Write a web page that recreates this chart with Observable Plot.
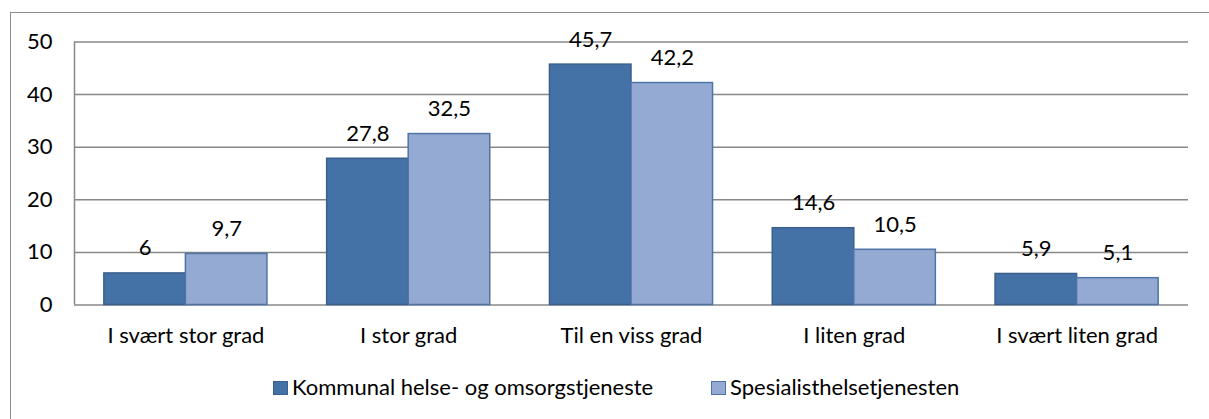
<!DOCTYPE html>
<html>
<head>
<meta charset="utf-8">
<script src="https://cdn.jsdelivr.net/npm/d3@7"></script>
<script src="https://cdn.jsdelivr.net/npm/@observablehq/plot@0.6"></script>
<style>
  html, body { margin: 0; padding: 0; background: #fff; }
  #wrap { position: relative; width: 1209px; height: 419px; overflow: hidden; font-family: Lato, "Open Sans", sans-serif; }
  #border { position: absolute; left: 10px; top: 12px; width: 1400px; height: 600px; border: 1.5px solid #8c8c8c; box-sizing: border-box; pointer-events: none; }
  #chart { position: absolute; left: 0; top: 0; }
  #legend { position: absolute; left: 0; top: 376px; width: 1209px; height: 26px; font-size: 22px; line-height: 22px; color: #000; }
  .item { position: absolute; top: 0; display: flex; align-items: center; white-space: nowrap; }
  .sw { width: 15px; height: 14px; border: 1.5px solid; box-sizing: border-box; margin-right: 4px; flex: none; position: relative; top: 1px; }
</style>
</head>
<body>
<div id="wrap">
  <div id="chart"></div>
  <div id="legend"></div>
  <div id="border"></div>
</div>
<script>
const categories = ["I svært stor grad", "I stor grad", "Til en viss grad", "I liten grad", "I svært liten grad"];
const seriesNames = ["Kommunal helse- og omsorgstjeneste", "Spesialisthelsetjenesten"];
const kommunal = [6, 27.8, 45.7, 14.6, 5.9];
const spesialist = [9.7, 32.5, 42.2, 10.5, 5.1];
const yTicks = [0, 10, 20, 30, 40, 50];
const fills = ["#4572A6", "#95AAD2"];
const strokes = ["#3A5F8C", "#4F74A6"];
const legendLeft = [273, 711];

const half = 0.366; // half group width in category units
const rows = [];
categories.forEach((c, i) => {
  [kommunal, spesialist].forEach((arr, s) => {
    rows.push({i, s, v: arr[i], x1: s === 0 ? i - half : i, x2: s === 0 ? i : i + half, xm: s === 0 ? i - half / 2 : i + half / 2});
  });
});
const fmt = v => String(v).replace(".", ",");

const plot = Plot.plot({
  width: 1209,
  height: 419,
  marginLeft: 74,
  marginRight: 21,
  marginTop: 41.5,
  marginBottom: 114.5,
  style: {background: "transparent", fontFamily: "Lato, 'Open Sans', sans-serif", fontSize: "22px", color: "#000"},
  x: {domain: [-0.5, 4.5], axis: null},
  y: {domain: [0, 50], axis: null},
  marks: [
    Plot.ruleY(yTicks, {stroke: "#888", strokeWidth: 1.5}),
    Plot.ruleX([-0.5], {y1: 0, y2: 50, stroke: "#888", strokeWidth: 1.5}),
    Plot.rectY(rows, {x1: "x1", x2: "x2", y1: 0, y2: "v", fill: d => fills[d.s], stroke: d => strokes[d.s], strokeWidth: 1.5}),
    Plot.text(rows, {x: "xm", y: "v", text: d => fmt(d.v), dy: -25, fill: "#000", fontSize: 22}),
    Plot.text(yTicks, {x: -0.5, y: d => d, text: d => String(d), textAnchor: "end", dx: -22, fill: "#000", fontSize: 22}),
    Plot.text(categories.map((c, i) => i), {x: d => d, y: 0, text: d => categories[d], dy: 31, fill: "#000", fontSize: 22})
  ]
});
document.getElementById("chart").appendChild(plot);

const legend = document.getElementById("legend");
seriesNames.forEach((n, s) => {
  const it = document.createElement("div");
  it.className = "item";
  it.style.left = legendLeft[s] + "px";
  const sw = document.createElement("div");
  sw.className = "sw";
  sw.style.background = fills[s];
  sw.style.borderColor = strokes[s];
  const t = document.createElement("span");
  t.textContent = n;
  it.appendChild(sw);
  it.appendChild(t);
  legend.appendChild(it);
});
</script>
</body>
</html>
